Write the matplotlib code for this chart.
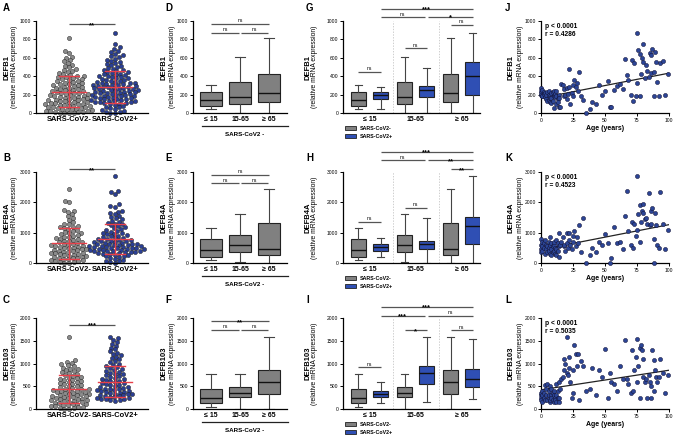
import numpy as np
import matplotlib
matplotlib.use("Agg")
import matplotlib.pyplot as plt
from matplotlib.patches import Rectangle
from matplotlib.lines import Line2D

plt.rcParams['font.family'] = ['Liberation Sans', 'DejaVu Sans']

# ---------------- data ----------------
genes = ['DEFB1', 'DEFB4A', 'DEFB103']
ymax = [1000, 3000, 2000]
yticks = [[0, 200, 400, 600, 800, 1000], [0, 1000, 2000, 3000], [0, 500, 1000, 1500, 2000]]
age_groups = ['\u2264 15', '15-65', '\u2265 65']
covid_groups = ['SARS-CoV2-', 'SARS-CoV2+']

# A/B/C : all samples, SARS-CoV2- vs SARS-CoV2+
A_neg = [812, 676, 651, 614, 597, 578, 561, 543, 526, 511, 497, 482, 468, 455, 447, 431, 422,
         414, 407, 399, 393, 386, 378, 371, 366, 359, 351, 343, 337, 331, 324, 318, 311, 305,
         299, 294, 288, 281, 276, 271, 265, 259, 254, 249, 243, 239, 233, 228, 222, 218, 213, 207, 202,
         197, 193, 188, 182, 177, 173, 168, 163, 158, 154, 149, 145, 141, 136, 131, 127, 122, 118, 113,
         109, 104, 101, 97, 94, 89, 85, 81, 77, 73, 69, 65, 61, 57, 52, 48, 44, 40, 36, 31, 27, 23,
         19, 15, 11, 7, 4, 2, 0, 0]
A_pos = [868, 754, 713, 694, 676, 659, 645, 631, 618, 604, 592, 579, 566, 553, 544, 531, 519, 508,
         498, 489, 480, 472, 465, 457, 449, 443, 436, 429, 423, 417, 411, 405, 399, 393, 387, 381,
         375, 369, 363, 357, 351, 346, 341, 336, 331, 327, 322, 318, 313, 309, 305, 300, 296, 292,
         288, 284, 280, 276, 272, 268, 264, 260, 256, 252, 248, 244, 240, 236, 232, 228, 224, 220,
         216, 212, 208, 204, 200, 196, 192, 188, 184, 180, 176, 172, 168, 164, 160, 156, 152,
         147, 143, 139, 135, 131, 127, 123, 119, 115, 111, 107, 103, 96, 88, 79,
         70, 61, 52, 43, 34, 25, 16, 8, 0, 0]
B_neg = [2450, 2060, 2010, 1760, 1720, 1680, 1610, 1540, 1480, 1420, 1350, 1300, 1270, 1230, 1200,
         1180, 1150, 1120, 1090, 1060, 1030, 1000, 980, 950, 920, 900, 870, 850, 830, 800, 780, 760,
         740, 720, 700, 680, 660, 640, 620, 600, 585, 570, 555, 540, 525, 510, 495, 480, 465, 450,
         435, 420, 405, 390, 375, 360, 345, 330, 315, 300, 285, 270, 255, 240, 225, 210, 195, 180,
         165, 150, 135, 120, 105, 90, 75, 60, 45, 30, 15, 0]
B_pos = [2870, 2380, 2330, 2290, 1930, 1880, 1850, 1720, 1690, 1650, 1600, 1560, 1520, 1480, 1440,
         1400, 1360, 1330, 1300, 1270, 1240, 1210, 1180, 1150, 1120, 1090, 1060, 1030, 1000, 980,
         960, 940, 920, 900, 880, 860, 840, 820, 800, 785, 770, 755, 740, 725, 710, 695, 680, 665,
         650, 640, 630, 620, 610, 600, 590, 580, 570, 560, 550, 540, 530, 520, 510, 500, 490, 480,
         470, 460, 450, 440, 430, 420, 410, 400, 390, 380, 370, 360, 350, 335, 320, 305, 290, 275,
         255, 235, 215, 190, 165, 140, 110, 80, 50, 20, 0]
C_neg = [1580, 1070, 1040, 1010, 985, 960, 935, 910, 890, 870, 850, 830, 810, 790, 770, 750, 730,
         710, 690, 675, 660, 645, 630, 615, 600, 585, 570, 555, 540, 525, 510, 495, 480, 465, 450,
         440, 430, 420, 410, 400, 390, 380, 370, 360, 350, 340, 330, 320, 310, 300, 290, 280, 270,
         260, 250, 240, 230, 220, 210, 200, 190, 180, 170, 160, 150, 140, 130, 120, 110, 100, 90,
         80, 70, 60, 50, 40, 30, 20, 10, 0]
C_pos = [1580, 1550, 1510, 1470, 1430, 1390, 1350, 1310, 1270, 1240, 1210, 1180, 1150, 1120, 1090,
         1060, 1030, 1000, 975, 950, 925, 900, 880, 860, 840, 820, 800, 780, 760, 740, 720, 700, 685,
         670, 655, 640, 625, 610, 595, 580, 565, 550, 535, 520, 505, 490, 475, 460, 450, 440, 430,
         420, 410, 400, 390, 380, 370, 360, 350, 340, 330, 320, 310, 300, 290, 280, 270, 260, 250,
         240, 230, 220, 210, 200, 190, 180]
# mean and SD (red bars): [neg, pos]
ABC_mean = [[233, 287], [643, 785], [434, 603]]
ABC_sd = [[172, 173], [524, 502], [303, 338]]
ABC_sig = ['**', '**', '***']
ABC_sig_y = [963, 3087, 1853]

# D-I : box stats [whislo, q1, med, q3, whishi] per age group
neg_box = [
    [[47, 72, 145, 228, 300], [0, 101, 174, 340, 609], [0, 120, 217, 420, 819]],
    [[88, 209, 429, 802, 1154], [22, 363, 604, 912, 1615], [0, 275, 462, 1308, 2450]],
    [[37, 140, 235, 441, 765], [0, 257, 346, 485, 772], [0, 324, 596, 860, 1581]],
]
pos_box = [
    [[45, 150, 200, 230, 282], [0, 175, 255, 296, 485], [0, 200, 401, 558, 869]],
    [[185, 382, 523, 622, 840], [0, 458, 622, 731, 1472], [0, 622, 1210, 1527, 2870]],
    [[125, 257, 331, 390, 603], [147, 544, 787, 948, 1581], [220, 493, 662, 890, 1544]],
]
# significance: (from group, to group, height, label)
DEF_sig = [
    [(1, 3, 971, 'ns'), (1, 2, 873, 'ns'), (2, 3, 873, 'ns')],
    [(1, 3, 2912, 'ns'), (1, 2, 2637, 'ns'), (2, 3, 2637, 'ns')],
    [(1, 3, 1926, '**'), (1, 2, 1742, 'ns'), (2, 3, 1742, 'ns')],
]
# G-I: (x1, x2) in box positions ('n' = grey, 'p' = blue), height, label
GHI_sig = [
    [((1, 'p'), (3, 'p'), 1131, '***'), ((1, 'p'), (2, 'p'), 1044, 'ns'), ((2, 'p'), (3, 'p'), 1044, '*'),
     ((1, 'n'), (1, 'p'), 449, 'ns'), ((2, 'n'), (2, 'p'), 704, 'ns'), ((3, 'n'), (3, 'p'), 960, 'ns')],
    [((1, 'p'), (3, 'p'), 3675, '***'), ((1, 'p'), (2, 'p'), 3380, 'ns'), ((2, 'p'), (3, 'p'), 3380, '**'),
     ((1, 'n'), (1, 'p'), 1363, 'ns'), ((2, 'n'), (2, 'p'), 1821, 'ns'), ((3, 'n'), (3, 'p'), 3086, '**')],
    [((1, 'p'), (3, 'p'), 2243, '***'), ((1, 'p'), (2, 'p'), 2051, '***'), ((2, 'p'), (3, 'p'), 2051, 'ns'),
     ((1, 'n'), (1, 'p'), 919, 'ns'), ((2, 'n'), (2, 'p'), 1728, '*'), ((3, 'n'), (3, 'p'), 1728, 'ns')],
]

# J/K/L : age vs expression
ages = [0, 0, 0, 0, 1, 1, 1, 2, 2, 3, 3, 4, 4, 5, 5, 6, 6, 6, 7, 7, 7, 8, 8, 8, 9, 9, 10, 10, 10,
        11, 11, 12, 12, 12, 13, 13, 14, 14, 14, 15,
        16, 17, 18, 18, 19, 20, 20, 21, 22, 22, 23, 24, 25, 25, 26, 27, 28, 29, 30, 31,
        33, 35, 38, 40, 43, 45, 48, 50, 52, 54, 55, 57, 59, 62, 64,
        66, 67, 68, 70, 71, 72, 73, 74, 75, 75, 76, 77, 77, 78, 79, 80, 80, 81, 82, 83, 84, 85,
        86, 86, 87, 88, 88, 89, 90, 91, 92, 93, 95, 97, 99]
J_vals = [270, 240, 220, 200, 250, 190, 180, 230, 210, 220, 170, 150, 200, 230, 130, 200, 140, 240,
          190, 120, 160, 220, 110, 160, 130, 230, 50, 180, 240, 210, 170, 240, 100, 190, 150, 120,
          200, 70, 160, 60,
          320, 300, 180, 260, 200, 270, 150, 210, 480, 280, 100, 220, 300, 190, 360, 280, 330, 240, 450, 180,
          140, 0, 40, 120, 100, 300, 200, 240, 350, 60, 70, 250, 290, 320, 260,
          590, 410, 360, 200, 580, 130, 540, 180, 870, 330, 680, 640, 190, 420, 600, 750, 550, 380,
          520, 460, 390, 650, 630, 440, 700, 190, 450, 660, 550, 340, 180, 540, 560, 200, 420]
K_vals = [800, 600, 450, 350, 700, 550, 400, 650, 500, 750, 300, 600, 450, 550, 350, 700, 500, 400,
          850, 600, 300, 650, 450, 250, 550, 350, 600, 400, 700, 500, 300, 750, 450, 250, 650, 400,
          1000, 550, 200, 600,
          700, 850, 550, 600, 400, 1000, 650, 500, 1000, 750, 600, 450, 700, 900, 1050, 550, 850, 650, 1250, 350,
          1480, 0, 250, 500, 350, 700, 600, 950, 650, 0, 150, 1200, 650, 700, 450,
          1550, 2380, 1050, 600, 1350, 500, 1300, 900, 2870, 1100, 1600, 1900, 700, 1350, 1700, 1650,
          1950, 1450, 1500, 1300, 2300, 1250, 1700, 1300, 1800, 0, 800, 1650, 1250, 600, 500, 2350,
          1300, 450, 1100]
L_vals = [300, 250, 350, 200, 400, 300, 150, 350, 250, 520, 200, 450, 300, 550, 200, 400, 250, 300,
          500, 150, 200, 450, 300, 250, 350, 200, 400, 150, 300, 250, 200, 550, 150, 300, 400, 250,
          600, 150, 250, 450,
          650, 700, 1100, 850, 1000, 800, 1580, 750, 1150, 900, 600, 250, 350, 850, 1400, 1200, 950, 1200, 200, 1050,
          950, 400, 450, 900, 300, 850, 700, 1320, 250, 800, 600, 550, 400, 950, 650,
          1520, 650, 550, 350, 1300, 400, 850, 1150, 1540, 600, 950, 1350, 250, 1400, 1300, 700, 1100,
          600, 650, 250, 750, 600, 500, 250, 1300, 400, 1080, 850, 700, 600, 700, 1100, 800, 350, 750]
# regression line value at age 0 and age 100, and stats
fit_ends = [[164, 433], [440, 1264], [422, 852]]
r_vals = ['0.4286', '0.4523', '0.5035']

# ---------------- layout ----------------
W, H = 673, 436
GREY, BLUE, RED = '#808080', '#2f4fb4', '#e8404a'
fig = plt.figure(figsize=(W / 100, H / 100), dpi=100)
rows = [(21, 113), (172, 263), (318, 409)]
cols = [(36, 148), (193, 287), (343, 480), (541, 669)]
ylab_x = [(7, 15), (164, 172), (308, 315), (511, 520)]
letters = ['ADGJ', 'BEHK', 'CFIL']
letter_x = [3, 165, 306, 505]
letter_y = [8, 158, 300]


def add_px_axes(x0, x1, y0, y1):
    return fig.add_axes([x0 / W, 1 - y1 / H, (x1 - x0) / W, (y1 - y0) / H])


def style(ax, r):
    for s in ('top', 'right'):
        ax.spines[s].set_visible(False)
    for s in ('left', 'bottom'):
        ax.spines[s].set_linewidth(0.9)
    ax.set_ylim(0, ymax[r])
    ax.set_yticks(yticks[r])
    ax.tick_params(axis='y', labelsize=3.6, length=2.2, width=0.7, pad=1.2)


def sig(ax, x1, x2, y, label):
    ax.plot([x1, x2], [y, y], color='#555555', lw=0.9, clip_on=False, solid_capstyle='butt')
    if label == 'ns':
        ax.annotate(label, ((x1 + x2) / 2, y), xytext=(0, 1.0), textcoords='offset points',
                    ha='center', va='baseline', fontsize=3.6, annotation_clip=False)
    else:
        ax.annotate(label, ((x1 + x2) / 2, y), xytext=(0, -1.8), textcoords='offset points',
                    ha='center', va='baseline', fontsize=5.5, fontweight='bold', annotation_clip=False)


def swarm_x(ax, center, vals, sx=4.7, sy=3.7):
    vals = np.asarray(vals, float)
    ys = ax.transData.transform(np.column_stack([np.full(len(vals), center), vals]))[:, 1]
    ppu = ax.transData.transform([(1, 0)])[0, 0] - ax.transData.transform([(0, 0)])[0, 0]
    out = np.zeros(len(vals))
    px, py = [], []
    for i in np.argsort(ys):
        y = ys[i]
        ax_, ay_ = np.array(px), np.array(py)
        if len(ax_):
            m = np.abs(ay_ - y) < sy
            nx, ny = ax_[m], ay_[m]
        else:
            nx = ny = np.array([])
        cands = [0.0]
        for a, b in zip(nx, ny):
            d = sx * np.sqrt(max(0.0, 1 - ((b - y) / sy) ** 2))
            cands += [a - d, a + d]
        cands.sort(key=abs)
        for c in cands:
            if np.all(((nx - c) / sx) ** 2 + ((ny - y) / sy) ** 2 >= 0.999):
                out[i] = c
                break
        px.append(out[i])
        py.append(y)
    return center + out / ppu


def ylabels(r, c):
    yc = 1 - (rows[r][0] + rows[r][1]) / 2 / H
    fig.text(ylab_x[c][0] / W, yc, genes[r], rotation=90, ha='center', va='center',
             fontsize=5.5, fontweight='bold')
    fig.text(ylab_x[c][1] / W, yc, '(relative mRNA expression)', rotation=90, ha='center',
             va='center', fontsize=4.9)


def boxes(ax, stats, pos, color, width, capw):
    st = [dict(whislo=s[0], q1=s[1], med=s[2], q3=s[3], whishi=s[4]) for s in stats]
    ax.bxp(st, positions=pos, widths=width, capwidths=capw, patch_artist=True, showfliers=False,
           manage_ticks=False,
           boxprops=dict(facecolor=color, edgecolor='#222222', linewidth=0.8),
           medianprops=dict(color='#111111', linewidth=1.0),
           whiskerprops=dict(color='#444444', linewidth=0.8),
           capprops=dict(color='#444444', linewidth=0.8))


swarm_data = [(A_neg, A_pos), (B_neg, B_pos), (C_neg, C_pos)]
scatter_vals = [J_vals, K_vals, L_vals]
groups = np.array([1, 2, 3])
off = 0.24

for r in range(3):
    y0, y1 = rows[r]
    # ---- A/B/C swarm ----
    ax = add_px_axes(*cols[0], y0, y1)
    style(ax, r)
    ax.set_xlim(-0.717, 1.717)
    ax.set_xticks([0, 1])
    ax.set_xticklabels(covid_groups, fontsize=5.4, fontweight='bold')
    ax.tick_params(axis='x', length=0, pad=2)
    neg, pos = swarm_data[r]
    for k, (vals, fc) in enumerate([(neg, '#8c8c8c'), (pos, '#2b3f94')]):
        xs = swarm_x(ax, k, vals)
        ax.scatter(xs, vals, s=9, c=fc, edgecolors='#222222', linewidths=0.35, clip_on=False, zorder=2)
        m, sd = ABC_mean[r][k], ABC_sd[r][k]
        ax.plot([k, k], [m - sd, m + sd], color=RED, lw=1.0, zorder=3)
        ax.plot([k - 0.37, k + 0.37], [m, m], color=RED, lw=1.0, zorder=3)
        for v in (m - sd, m + sd):
            ax.plot([k - 0.22, k + 0.22], [v, v], color=RED, lw=1.0, zorder=3)
    sig(ax, 0, 1, ABC_sig_y[r], ABC_sig[r])
    ylabels(r, 0)

    # ---- D/E/F boxes, SARS-CoV2 - only ----
    ax = add_px_axes(*cols[1], y0, y1)
    style(ax, r)
    ax.set_xlim(0.38, 3.62)
    boxes(ax, neg_box[r], groups, GREY, 0.75, 0.35)
    ax.set_xticks(groups)
    ax.set_xticklabels(age_groups, fontsize=5, fontweight='bold')
    ax.tick_params(axis='x', length=0, pad=2)
    for a, b, h, lab in DEF_sig[r]:
        xa, xb = a, b
        if b - a == 1:
            xa, xb = (a + 0.03, b - 0.03) if a == 2 else (a, b - 0.03)
        sig(ax, xa, xb, h, lab)
    fig.add_artist(Line2D([202 / W, 288 / W], [1 - (y1 + 13) / H] * 2, color='#222222', lw=0.9))
    fig.text(245 / W, 1 - (y1 + 21) / H, 'SARS-CoV2 -', ha='center', va='center',
             fontsize=4.5, fontweight='bold')
    ylabels(r, 1)

    # ---- G/H/I boxes by age and infection ----
    ax = add_px_axes(*cols[2], y0, y1)
    style(ax, r)
    ax.set_xlim(0.424, 3.40)
    for xv in (1.5, 2.5):
        ax.axvline(xv, color='#bbbbbb', lw=0.5, ls=(0, (2, 2)), zorder=0)
    boxes(ax, neg_box[r], groups - off, GREY, 0.33, 0.15)
    boxes(ax, pos_box[r], groups + off, BLUE, 0.33, 0.15)
    ax.set_xticks(groups)
    ax.set_xticklabels(age_groups, fontsize=5, fontweight='bold')
    ax.tick_params(axis='x', length=0, pad=2)
    for (ga, sa), (gb, sb), h, lab in GHI_sig[r]:
        xa = ga + (off if sa == 'p' else -off)
        xb = gb + (off if sb == 'p' else -off)
        if (ga, gb) == (1, 2):
            xb -= 0.04
        if (ga, gb) == (2, 3):
            xa += 0.04
        sig(ax, xa, xb, h, lab)
    for k, (lab, col) in enumerate(zip(covid_groups, [GREY, BLUE])):
        yy = y1 + 15 + 8 * k
        fig.add_artist(Rectangle((345 / W, 1 - (yy + 2) / H), 11 / W, 4 / H,
                                 facecolor=col, edgecolor='#222222', lw=0.6))
        fig.text(360 / W, 1 - yy / H, lab, ha='left', va='center', fontsize=3.8, fontweight='bold')
    ylabels(r, 2)

    # ---- J/K/L age correlation ----
    ax = add_px_axes(*cols[3], y0, y1)
    style(ax, r)
    ax.set_xlim(0, 100)
    ax.set_xticks([0, 25, 50, 75, 100])
    ax.tick_params(axis='x', labelsize=3.6, length=2.2, width=0.7, pad=1.2)
    ax.scatter(ages, scatter_vals[r], s=9, c='#2c4596', edgecolors='#111133', linewidths=0.35,
               clip_on=False, zorder=3)
    ax.plot([0, 100], fit_ends[r], color='#222222', lw=0.9, zorder=2)
    ax.text(0.03, 0.98, 'p < 0.0001\nr = ' + r_vals[r], transform=ax.transAxes, ha='left', va='top',
            fontsize=4.8, fontweight='bold', linespacing=1.3)
    ax.set_xlabel('Age (years)', fontsize=5, fontweight='bold', labelpad=1.5)
    ylabels(r, 3)

    for c in range(4):
        fig.text(letter_x[c] / W, 1 - letter_y[r] / H, letters[r][c], ha='left', va='center',
                 fontsize=7, fontweight='bold')

fig.savefig('out.png', dpi=100)
